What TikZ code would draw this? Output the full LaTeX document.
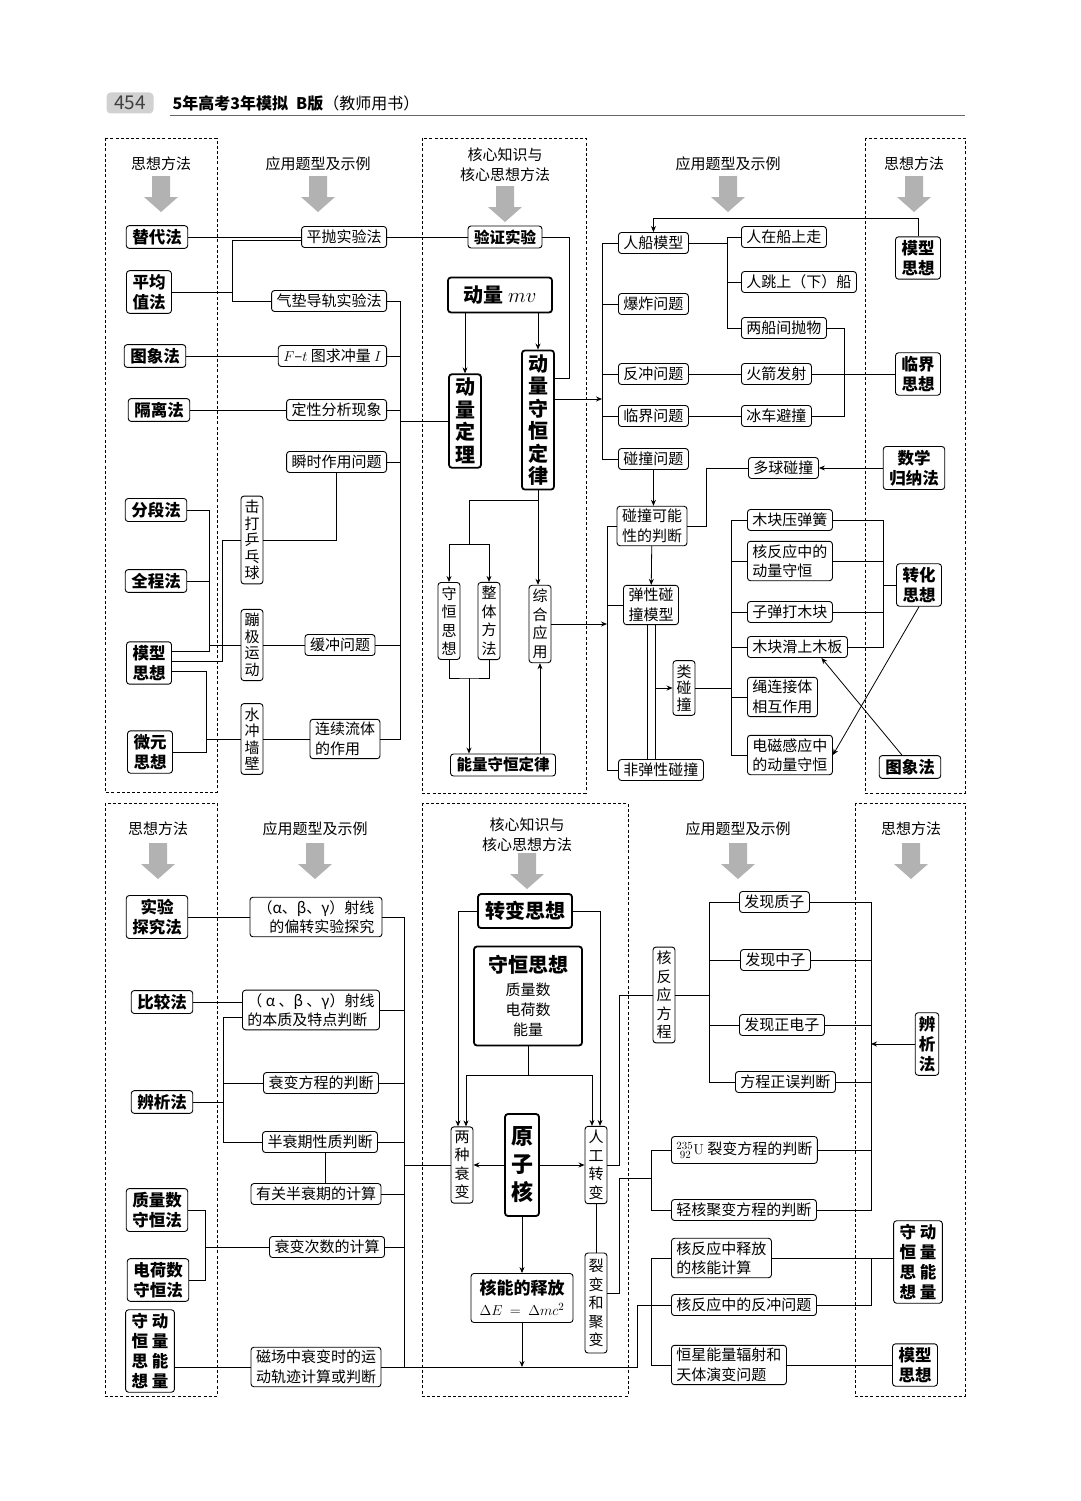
\documentclass[tikz,border=0pt]{standalone}
\usepackage[no-math]{fontspec}
\setmainfont{Noto Sans CJK SC}
\usepackage{amsmath}
\usetikzlibrary{arrows.meta,positioning}

\begin{document}
\begin{tikzpicture}[x=1pt, y=-1pt, >={Stealth[length=6pt,width=5pt]}, line width=0.8pt,
  box/.style={draw, rounded corners=3pt, line width=0.9pt, align=center},
  app/.style={box, font=\fontsize{15}{19.5}\selectfont, inner xsep=5pt, inner ysep=3pt, minimum height=21pt},
  vapp/.style={box, font=\fontsize{15}{16.5}\selectfont, inner xsep=3.5pt, inner ysep=4pt},
  vappL/.style={vapp, font=\fontsize{15}{18.5}\selectfont},
  meth/.style={box, font=\fontsize{16.5}{20}\selectfont\bfseries, inner xsep=6pt, inner ysep=3.5pt, minimum height=22pt},
  vmeth/.style={meth, inner xsep=3.5pt},
  core/.style={box, line width=1.8pt, font=\fontsize{20}{22.5}\selectfont\bfseries, inner xsep=6pt, inner ysep=4pt},
  head/.style={font=\fontsize{15}{20}\selectfont, align=center},
  panel/.style={draw, dash pattern=on 3pt off 2.2pt, line width=0.7pt}]

\fill[white] (0,0) rectangle (1080,1501);
\useasboundingbox (0,0) rectangle (1080,1501);

% header
\node[fill=black!18, rounded corners=4pt, minimum width=47pt, minimum height=21pt, font=\fontsize{19}{20}\selectfont, text=black!75] (pageno) at (130,103) {454};
\node[anchor=west, font=\fontsize{16}{18}\selectfont] (title) at (169,103) {\textbf{5年高考3年模拟}\hspace{8pt}\textbf{B版}（教师用书）};
\draw[black!60, line width=0.6pt] (170,115) -- (965,115);

% panels and column heads
\draw[panel] (105,138) rectangle (217,792);
\draw[panel] (422,138) rectangle (586,793);
\draw[panel] (865,138) rectangle (965,793);
\draw[panel] (105,803) rectangle (217,1396);
\draw[panel] (422,803) rectangle (628,1396);
\draw[panel] (855,803) rectangle (965,1396);

\node[head] (h1) at (161,164) {思想方法};
\node[head] (h2) at (318,164) {应用题型及示例};
\node[head] (h3) at (505,165) {核心知识与\\核心思想方法};
\node[head] (h4) at (728,164) {应用题型及示例};
\node[head] (h5) at (914,164) {思想方法};
\node[head] (h6) at (158,829) {思想方法};
\node[head] (h7) at (315,829) {应用题型及示例};
\node[head] (h8) at (527,835) {核心知识与\\核心思想方法};
\node[head] (h9) at (738,829) {应用题型及示例};
\node[head] (h10) at (911,829) {思想方法};

\foreach \ax/\ay in {161/176, 318/176, 505/186, 728/176, 914/176, 158/843, 315/843, 527/853, 738/843, 911/843}
  \fill[black!30] (\ax-9,\ay) -- (\ax+9,\ay) -- (\ax+9,\ay+21) -- (\ax+17,\ay+21) -- (\ax,\ay+36) -- (\ax-17,\ay+21) -- (\ax-9,\ay+21) -- cycle;

% upper part, left
\node[meth] (tidai) at (157,237) {替代法};
\node[meth] (pingjun) at (149,292) {平均\\值法};
\node[meth] (tuxiang) at (155,356) {图象法};
\node[meth] (geli) at (159,410) {隔离法};
\node[meth] (fenduan) at (156,510) {分段法};
\node[meth] (quancheng) at (156,581) {全程法};
\node[meth] (moxing) at (149,663) {模型\\思想};
\node[meth] (weiyuan) at (150,752) {微元\\思想};

\node[app, anchor=east] (pingpao) at (387,237) {平抛实验法};
\node[app, anchor=east] (qidian) at (387,301) {气垫导轨实验法};
\node[app, anchor=east] (ftimg) at (387,356) {$F$–$t$ 图求冲量 $I$};
\node[app, anchor=east] (dingxing) at (387,410) {定性分析现象};
\node[app, anchor=east] (shunshi) at (387,462) {瞬时作用问题};
\node[vapp] (jida) at (252,540) {击\\打\\乒\\乓\\球};
\node[vapp] (bengji) at (252,645) {蹦\\极\\运\\动};
\node[app] (huanchong) at (340,645) {缓冲问题};
\node[vapp] (shuichong) at (252,739) {水\\冲\\墙\\壁};
\node[app, align=left] (liuti) at (345,739) {连续流体\\的作用};

\coordinate (bkA) at (232,0);
\coordinate (busL) at (400,0);
\coordinate (busM) at (209,0);
\coordinate (busN) at (222,0);
\coordinate (busO) at (206,0);
\coordinate (moxA) at ([yshift=12pt]moxing.east);
\coordinate (moxB) at ([yshift=2pt]moxing.east);
\coordinate (moxC) at ([yshift=-8pt]moxing.east);

\draw (tidai) -- (pingpao);
\draw ([yshift=-3pt]pingpao.west) -| (bkA |- qidian.west) -- (qidian.west);
\draw (pingjun.east) -- (pingjun.east -| bkA);
\draw (tuxiang) -- (ftimg);
\draw (geli) -- (dingxing);
\draw (qidian.east) -| (busL |- liuti.east) -- (liuti.east);
\foreach \n in {ftimg, dingxing, shunshi, huanchong}
  \draw (\n.east) -- (\n.east -| busL);
\draw (shunshi.south) |- (jida.east);
\draw (fenduan.east) -| (busM |- moxA) -- (moxA);
\draw (quancheng.east) -- (quancheng.east -| busM);
\draw (busM |- bengji.west) -- (bengji.west);
\draw (moxB) -| (busN |- jida.west) -- (jida.west);
\draw (moxC) -| (busO |- weiyuan.east) -- (weiyuan.east);
\draw (busO |- shuichong.west) -- (shuichong.west);
\draw (bengji) -- (huanchong);
\draw (shuichong) -- (liuti);

% upper part, core
\node[meth, font=\fontsize{15.5}{20}\selectfont\bfseries] (yanzheng) at (505,237) {验证实验};
\node[core, minimum width=104pt, minimum height=35pt] (dongliang) at (500,295) {动量 $mv$};
\node[core] (dingli) at (465,421) {动\\量\\定\\理};
\node[core] (shouheng) at (538,420) {动\\量\\守\\恒\\定\\律};
\node[vappL] (shsx) at (449,621) {守\\恒\\思\\想};
\node[vappL] (zhengti) at (489,621) {整\\体\\方\\法};
\node[vappL] (zonghe) at (540,624) {综\\合\\应\\用};
\node[meth, font=\fontsize{15.5}{20}\selectfont\bfseries] (nlsh) at (503,765) {能量守恒定律};

\coordinate (busV) at (569,0);
\coordinate (busR1) at (602,0);
\coordinate (busR2) at (607,0);
\coordinate (shA) at ([yshift=42pt]shouheng.east);
\coordinate (shB) at ([yshift=21pt]shouheng.east);
\coordinate (jA) at (469,500);
\coordinate (jB) at (469,544);
\coordinate (jC) at (469,678);

\draw (pingpao) -- (yanzheng);
\draw (dingli.west) -- (dingli.west -| busL);
\draw[->] (dongliang.south -| dingli) -- (dingli.north);
\draw[->] (dongliang.south -| shouheng) -- (shouheng.north);
\draw (yanzheng.east) -| (busV |- shA) -- (shA);
\draw[->] (shB) -- (shB -| busR1);
\draw[->] (shouheng.south) -- (shouheng.south |- zonghe.north);
\draw (shouheng.south |- jA) -- (jA) -- (jB);
\draw[->] (jB) -| (shsx.north);
\draw[->] (jB) -| (zhengti.north);
\draw (shsx.south) |- (jC) -| (zhengti.south);
\draw[->] (jC) -- (jC |- nlsh.north);
\draw[->] (nlsh.north -| zonghe) -- (zonghe.south);
\draw[->] (zonghe.east) -- (zonghe.east -| busR2);

% upper part, right
\node[app, anchor=west] (renchuan) at (618,243) {人船模型};
\node[app, anchor=west] (baozha) at (618,304) {爆炸问题};
\node[app, anchor=west] (fanchong) at (618,374) {反冲问题};
\node[app, anchor=west] (linjie) at (618,416) {临界问题};
\node[app, anchor=west] (pzwt) at (618,459) {碰撞问题};
\node[app, anchor=west] (renzai) at (741,237) {人在船上走};
\node[app, anchor=west] (rentiao) at (741,282) {人跳上（下）船};
\node[app, anchor=west] (liangchuan) at (741,328) {两船间抛物};
\node[app, anchor=west] (huojian) at (741,374) {火箭发射};
\node[app, anchor=west] (bingche) at (741,416) {冰车避撞};
\node[meth] (moxingR) at (918,258) {模型\\思想};
\node[meth] (linjieR) at (918,374) {临界\\思想};
\node[meth] (shuxue) at (914,468) {数学\\归纳法};
\node[app, anchor=west] (duoqiu) at (748,468) {多球碰撞};
\node[app] (kenneng) at (652,526) {碰撞可能\\性的判断};
\node[app] (tanxing) at (651,605) {弹性碰\\撞模型};
\node[app, anchor=west] (feitanxing) at (618,770) {非弹性碰撞};
\node[vapp] (leipeng) at (684,688) {类\\碰\\撞};
\node[app, anchor=west] (muhuang) at (747,520) {木块压弹簧};
\node[app, anchor=west, align=left] (hefy) at (747,561) {核反应中的\\动量守恒};
\node[app, anchor=west] (zidan) at (747,612) {子弹打木块};
\node[app, anchor=west] (muban) at (747,647) {木块滑上木板};
\node[app, anchor=west, align=left] (shenglian) at (747,697) {绳连接体\\相互作用};
\node[app, anchor=west, align=left] (dianci) at (747,755) {电磁感应中\\的动量守恒};
\node[meth] (zhuanhua) at (919,585) {转化\\思想};
\node[meth] (tuxiangR) at (910,767) {图象法};

\coordinate (busR3) at (727,0);
\coordinate (busR4) at (731,0);
\coordinate (busR5) at (883,0);
\coordinate (tA) at ([xshift=-4pt]tanxing.south);
\coordinate (tB) at ([xshift=4pt]tanxing.south);

\draw (renchuan.west) -| (busR1 |- pzwt.west) -- (pzwt.west);
\foreach \n in {baozha, fanchong, linjie}
  \draw (\n.west) -- (\n.west -| busR1);
\draw (renzai.west) -| (busR3 |- liangchuan.west) -- (liangchuan.west);
\draw (rentiao.west) -- (rentiao.west -| busR3);
\draw (renchuan.east) -- (renchuan.east -| busR3);
\draw (fanchong) -- (huojian);
\draw (linjie) -- (bingche);
\draw (liangchuan.east) -- ++(17,0) |- (bingche.east);
\draw (huojian) -- (linjieR);
\draw[->] (moxingR.north) -- ++(0,-18) -| (renchuan.north);
\draw[->] (shuxue) -- (duoqiu);
\draw[->] (pzwt.south) -- (pzwt.south |- kenneng.north);
\draw (kenneng.east) -- ++(19,0) |- (duoqiu.west);
\draw[->] (kenneng) -- (tanxing);
\draw (kenneng.west) -| (busR2 |- feitanxing.west) -- (feitanxing.west);
\draw (tanxing.west) -- (tanxing.west -| busR2);
\draw (tA) -- (tA |- feitanxing.north);
\draw (tB) -- (tB |- feitanxing.north);
\draw[->] (tB |- leipeng.west) -- (leipeng.west);
\draw (muhuang.west) -| (busR4 |- dianci.west) -- (dianci.west);
\foreach \n in {hefy, zidan, muban, shenglian}
  \draw (\n.west) -- (\n.west -| busR4);
\draw (leipeng.east) -- (leipeng.east -| busR4);
\draw (muhuang.east) -| (busR5 |- muban.east) -- (muban.east);
\draw (hefy.east) -- (hefy.east -| busR5);
\draw (zidan.east) -- (zidan.east -| busR5);
\draw (zhuanhua.west) -- (zhuanhua.west -| busR5);
\draw[->] (zhuanhua.south) -- (dianci.east);
\draw[->] ([xshift=-8pt]tuxiangR.north) -- ([xshift=24pt]muban.south);

% lower part, left
\node[meth] (shiyan) at (157,917) {实验\\探究法};
\node[meth] (bijiao) at (162,1002) {比较法};
\node[meth] (bianxi) at (162,1102) {辨析法};
\node[meth] (zhiliang) at (157,1210) {质量数\\守恒法};
\node[meth] (dianhe) at (158,1280) {电荷数\\守恒法};
\node[meth] (shdl) at (150,1351) {守 动\\恒 量\\思 能\\想 量};

\node[app, align=right, minimum width=132pt] (piancheng) at (316,917) {（α、β、γ）射线\\的偏转实验探究};
\node[app, align=left] (benzhi) at (311,1010) {（ α 、β 、γ）射线\\的本质及特点判断};
\node[app] (shuaibian) at (321,1083) {衰变方程的判断};
\node[app] (banshuai) at (320,1142) {半衰期性质判断};
\node[app] (youguan) at (316,1194) {有关半衰期的计算};
\node[app] (cishu) at (327,1247) {衰变次数的计算};
\node[app, align=left] (cichang) at (316,1367) {磁场中衰变时的运\\动轨迹计算或判断};

% lower part, core
\node[core, minimum width=94pt, minimum height=34pt] (zhuanbian) at (525,911) {转变思想};
\node[core, minimum width=108pt, minimum height=99pt, font=\fontsize{15}{20}\selectfont] (shsxB) at (528,996) {{\fontsize{20}{24}\selectfont\bfseries 守恒思想}\\[3pt]质量数\\电荷数\\能量};
\node[vappL] (liangzhong) at (462,1165) {两\\种\\衰\\变};
\node[core, font=\fontsize{22}{28}\selectfont\bfseries, minimum width=33pt, minimum height=102pt] (yuanzihe) at (522,1165) {原\\子\\核};
\node[vappL] (rengong) at (596,1165) {人\\工\\转\\变};
\node[vappL, minimum height=100pt] (liebian) at (596,1303) {裂\\变\\和\\聚\\变};
\node[box, font=\fontsize{15}{20}\selectfont, minimum width=102pt, minimum height=49pt, inner sep=3pt] (heneng) at (522,1298) {{\fontsize{17}{20}\selectfont\bfseries 核能的释放}\\[1pt]$\Delta E\ =\ \Delta mc^2$};

% lower part, right
\node[vappL] (hfyfc) at (664,995) {核\\反\\应\\方\\程};
\node[app, anchor=west] (zhizi) at (739,902) {发现质子};
\node[app, anchor=west] (zhongzi) at (740,960) {发现中子};
\node[app, anchor=west] (zhengdz) at (739,1025) {发现正电子};
\node[app, anchor=west] (zhengwu) at (735,1082) {方程正误判断};
\node[app, anchor=west, minimum height=27pt] (uliebian) at (671,1150) {$^{235}_{\ 92}\mathrm{U}$ 裂变方程的判断};
\node[app, anchor=west] (qinghe) at (671,1210) {轻核聚变方程的判断};
\node[app, anchor=west, align=left] (shifang) at (671,1258) {核反应中释放\\的核能计算};
\node[app, anchor=west] (fanchongwt) at (671,1305) {核反应中的反冲问题};
\node[app, anchor=west, align=left] (hengxing) at (671,1365) {恒星能量辐射和\\天体演变问题};
\node[vmeth] (bianxiR) at (927,1044) {辨\\析\\法};
\node[meth] (shdlR) at (918,1262) {守 动\\恒 量\\思 能\\想 量};
\node[meth] (moxingR2) at (915,1365) {模型\\思想};

\coordinate (busB1) at (223,0);
\coordinate (busB2) at (404,0);
\coordinate (busB3) at (205,0);
\coordinate (busB4) at (619,0);
\coordinate (busB5) at (651,0);
\coordinate (busB6) at (637,0);
\coordinate (busB7) at (709,0);
\coordinate (busB8) at (871,0);
\coordinate (bzA) at ([yshift=-7pt]benzhi.west);
\coordinate (bsA) at ([xshift=5pt]banshuai.south);
\coordinate (lzA) at ([xshift=-4pt]liangzhong.north);
\coordinate (lzB) at ([xshift=4pt]liangzhong.north);
\coordinate (rgA) at ([xshift=-4pt]rengong.north);
\coordinate (rgB) at ([xshift=4pt]rengong.north);
\coordinate (jD) at (528,1075);
\coordinate (jE) at (651,1178);
\coordinate (lbA) at ([yshift=10pt]liebian.east);
\coordinate (bot) at (522,1367);

\draw (shiyan) -- (piancheng);
\draw (bijiao.east) -- (bijiao.east -| benzhi.west);
\draw (bzA) -| (busB1 |- banshuai.west) -- (banshuai.west);
\draw (bianxi.east) -- (bianxi.east -| busB1);
\draw (shuaibian.west) -- (shuaibian.west -| busB1);
\draw (bsA) -- (bsA |- youguan.north);
\draw (piancheng.east) -| (busB2 |- cichang.east) -- (cichang.east);
\foreach \n in {benzhi, shuaibian, banshuai, youguan, cishu}
  \draw (\n.east) -- (\n.east -| busB2);
\draw (busB2 |- liangzhong.west) -- (liangzhong.west);
\draw (zhiliang.east) -| (busB3 |- dianhe.east) -- (dianhe.east);
\draw (busB3 |- cishu.west) -- (cishu.west);
\draw (shdl.east |- cichang.west) -- (cichang.west);

\draw[->] (zhuanbian.west) -| (lzA);
\draw[->] (zhuanbian.east) -| (rgB);
\draw (shsxB.south) -- (jD);
\draw[->] (jD) -| (lzB);
\draw[->] (jD) -| (rgA);
\draw[->] (yuanzihe) -- (liangzhong);
\draw[->] (yuanzihe) -- (rengong);
\draw[->] (yuanzihe) -- (heneng);
\draw[->] (heneng.south) -- (bot);
\draw (rengong) -- (liebian);
\draw (cichang.east -| busB2) -- (busB6 |- cichang.east) |- (fanchongwt.west);
\draw (rengong.east) -| (busB4 |- hfyfc.west) -- (hfyfc.west);
\draw (lbA) -| (busB4 |- jE) -- (jE);

\draw (zhizi.west) -| (busB7 |- zhengwu.west) -- (zhengwu.west);
\foreach \n in {zhongzi, zhengdz}
  \draw (\n.west) -- (\n.west -| busB7);
\draw (hfyfc.east) -- (hfyfc.east -| busB7);
\draw (zhizi.east) -| (busB8 |- qinghe.east) -- (qinghe.east);
\foreach \n in {zhongzi, zhengdz, zhengwu, uliebian}
  \draw (\n.east) -- (\n.east -| busB8);
\draw[->] (bianxiR.west) -- (bianxiR.west -| busB8);
\draw (uliebian.west) -| (busB5 |- qinghe.west) -- (qinghe.west);
\draw (shifang.west) -| (busB5 |- hengxing.west) -- (hengxing.west);
\draw (shifang.east) -- (shifang.east -| shdlR.west);
\draw (fanchongwt.east) -| (busB8 |- shifang.east);
\draw (hengxing) -- (moxingR2);
\end{tikzpicture}
\end{document}
